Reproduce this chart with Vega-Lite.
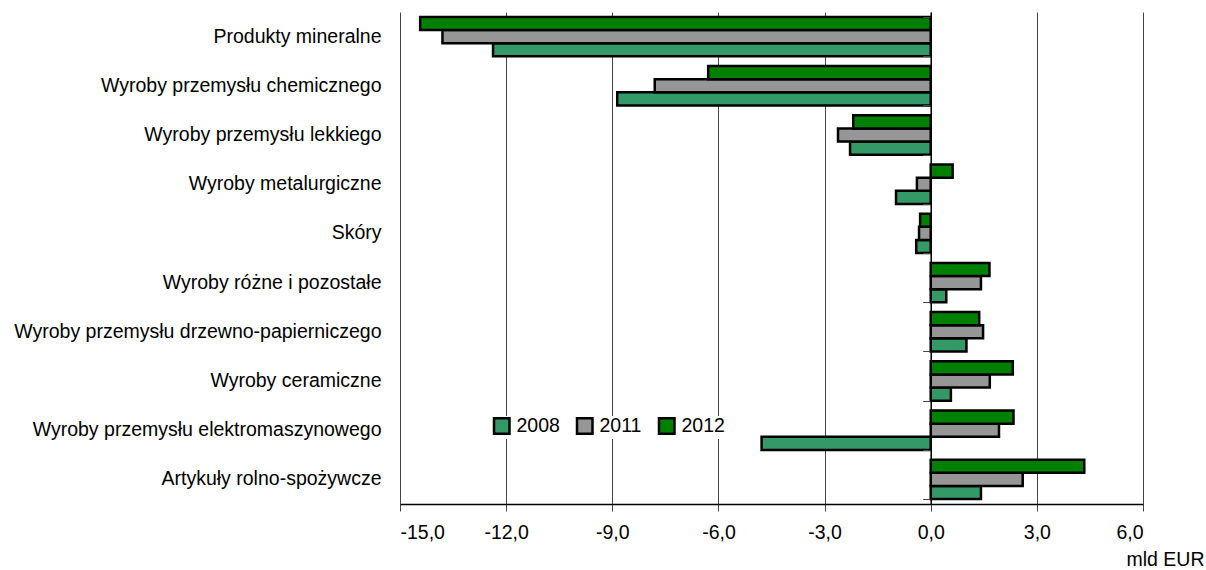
{
  "$schema": "https://vega.github.io/schema/vega-lite/v6.json",
  "width": 743,
  "height": 492,
  "autosize": {"type": "none"},
  "padding": {"left": 400, "top": 12, "right": 63, "bottom": 66},
  "background": "white",
  "config": {
    "locale": {"number": {"decimal": ",", "thousands": " ", "grouping": [3], "currency": ["", ""], "minus": "-"}},
    "font": "Liberation Sans",
    "view": {"stroke": null}
  },
  "data": {
    "values": [
      {"kat": "Produkty mineralne", "rok": "2008", "v": -12.37},
      {"kat": "Produkty mineralne", "rok": "2011", "v": -13.8},
      {"kat": "Produkty mineralne", "rok": "2012", "v": -14.43},
      {"kat": "Wyroby przemysłu chemicznego", "rok": "2008", "v": -8.86},
      {"kat": "Wyroby przemysłu chemicznego", "rok": "2011", "v": -7.8},
      {"kat": "Wyroby przemysłu chemicznego", "rok": "2012", "v": -6.29},
      {"kat": "Wyroby przemysłu lekkiego", "rok": "2008", "v": -2.28},
      {"kat": "Wyroby przemysłu lekkiego", "rok": "2011", "v": -2.62},
      {"kat": "Wyroby przemysłu lekkiego", "rok": "2012", "v": -2.19},
      {"kat": "Wyroby metalurgiczne", "rok": "2008", "v": -0.98},
      {"kat": "Wyroby metalurgiczne", "rok": "2011", "v": -0.39},
      {"kat": "Wyroby metalurgiczne", "rok": "2012", "v": 0.62},
      {"kat": "Skóry", "rok": "2008", "v": -0.41},
      {"kat": "Skóry", "rok": "2011", "v": -0.33},
      {"kat": "Skóry", "rok": "2012", "v": -0.3},
      {"kat": "Wyroby różne i pozostałe", "rok": "2008", "v": 0.44},
      {"kat": "Wyroby różne i pozostałe", "rok": "2011", "v": 1.42},
      {"kat": "Wyroby różne i pozostałe", "rok": "2012", "v": 1.66},
      {"kat": "Wyroby przemysłu drzewno-papierniczego", "rok": "2008", "v": 1.01},
      {"kat": "Wyroby przemysłu drzewno-papierniczego", "rok": "2011", "v": 1.48},
      {"kat": "Wyroby przemysłu drzewno-papierniczego", "rok": "2012", "v": 1.37},
      {"kat": "Wyroby ceramiczne", "rok": "2008", "v": 0.57},
      {"kat": "Wyroby ceramiczne", "rok": "2011", "v": 1.67},
      {"kat": "Wyroby ceramiczne", "rok": "2012", "v": 2.32},
      {"kat": "Wyroby przemysłu elektromaszynowego", "rok": "2008", "v": -4.78},
      {"kat": "Wyroby przemysłu elektromaszynowego", "rok": "2011", "v": 1.93},
      {"kat": "Wyroby przemysłu elektromaszynowego", "rok": "2012", "v": 2.34},
      {"kat": "Artykuły rolno-spożywcze", "rok": "2008", "v": 1.42},
      {"kat": "Artykuły rolno-spożywcze", "rok": "2011", "v": 2.6},
      {"kat": "Artykuły rolno-spożywcze", "rok": "2012", "v": 4.34}
    ]
  },
  "resolve": {"axis": {"y": "independent"}},
  "layer": [
    {
      "mark": {"type": "bar", "stroke": "black", "strokeWidth": 2.5},
      "encoding": {
        "y": {
          "field": "kat", "type": "nominal", "sort": null,
          "scale": {"paddingInner": 0.2, "paddingOuter": 0.1},
          "axis": {"orient": "left", "title": null, "domain": false, "ticks": false, "labelPadding": 19, "labelFontSize": 19.5, "labelColor": "black", "labelLimit": 400}
        },
        "yOffset": {"field": "rok", "type": "nominal", "sort": ["2012", "2011", "2008"]},
        "x": {
          "field": "v", "type": "quantitative",
          "scale": {"domain": [-15, 6], "nice": false, "zero": false},
          "axis": {
            "values": [-15, -12, -9, -6, -3, 0, 3, 6],
            "format": ".1f",
            "grid": true, "gridColor": "#444444", "gridWidth": 1, "gridOpacity": 1,
            "domainColor": "black", "domainWidth": 1.5,
            "tickColor": "#444444", "tickSize": 7,
            "labelFontSize": 19.5, "labelColor": "black", "labelPadding": 12,
            "title": "mld EUR", "titleFontSize": 19.5, "titleFontWeight": "normal", "titleColor": "black",
            "titleAnchor": null, "titleAlign": "right", "titleX": 804, "titleY": 61, "titleBaseline": "alphabetic"
          }
        },
        "color": {
          "field": "rok", "type": "nominal",
          "scale": {"domain": ["2008", "2011", "2012"], "range": ["#339966", "#969696", "#008000"]},
          "legend": {
            "title": null, "orient": "none", "direction": "horizontal",
            "legendX": 92, "legendY": 404,
            "symbolType": "square", "symbolSize": 240, "symbolStrokeColor": "black", "symbolStrokeWidth": 2.5, "symbolOpacity": 1,
            "labelFontSize": 19.5, "labelColor": "black", "labelOffset": 5, "columnPadding": 12,
            "fillColor": "white"
          }
        }
      }
    },
    {
      "mark": {"type": "bar", "opacity": 0},
      "encoding": {
        "y": {
          "field": "kat", "type": "nominal", "sort": null,
          "axis": {"orient": "left", "title": null, "labels": false, "grid": false, "offset": -530.7, "domainColor": "black", "domainWidth": 1.5, "tickColor": "#444444", "tickSize": 8, "tickBand": "extent", "zindex": 1}
        },
        "x": {"datum": 0, "type": "quantitative"}
      }
    }
  ]
}
